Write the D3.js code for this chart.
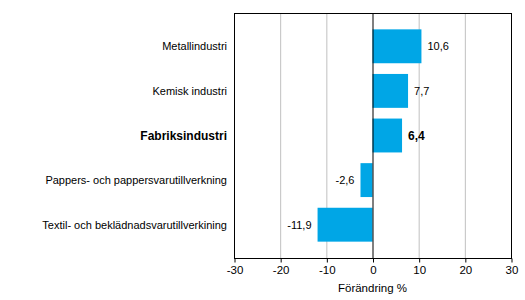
<!DOCTYPE html>
<html>
<head>
<meta charset="utf-8">
<script src="https://cdn.jsdelivr.net/npm/d3@7"></script>
<style>
  body { margin: 0; background: #fff; }
  text { font-family: "Liberation Sans", Arial, sans-serif; }
</style>
</head>
<body>
<svg id="chart" width="525" height="300"></svg>
<script>
// data
const categories = ["Metallindustri", "Kemisk industri", "Fabriksindustri",
  "Pappers- och pappersvarutillverkning", "Textil- och beklädnadsvarutillverkining"]
const values = [10.6, 7.7, 6.4, -2.6, -11.9]
const boldCat = "Fabriksindustri"
const ticks = [-30, -20, -10, 0, 10, 20, 30]

const plotL = 234, plotR = 511, plotT = 13, plotB = 258
const svg = d3.select("#chart")

const x = d3.scaleLinear().domain([-30, 30]).range([plotL, plotR])
const y = d3.scaleBand().domain(categories).range([24, 247]).paddingInner(0.24).paddingOuter(0.12)

// hyphen instead of unicode minus, decimal comma
const fmt = d => d3.format(".1f")(d).replace("−", "-").replace(".", ",")

// grid
svg.append("g").selectAll("line")
  .data(ticks.filter(t => t != 0 && t != -30 && t != 30))
  .join("line")
  .attr("x1", d => x(d) + 0.5).attr("x2", d => x(d) + 0.5)
  .attr("y1", plotT).attr("y2", plotB)
  .attr("stroke", "#c0c0c0").attr("stroke-width", 1)

// bars
svg.append("g").selectAll("rect")
  .data(categories)
  .join("rect")
  .attr("x", (d, i) => x(Math.min(0, values[i])))
  .attr("width", (d, i) => Math.abs(x(values[i]) - x(0)))
  .attr("y", d => y(d))
  .attr("height", y.bandwidth())
  .attr("fill", "#00a6e6")

// zero line
svg.append("line")
  .attr("x1", x(0) + 0.5).attr("x2", x(0) + 0.5)
  .attr("y1", plotT).attr("y2", plotB)
  .attr("stroke", "#000")

// frame
svg.append("rect")
  .attr("x", plotL + 0.5).attr("y", plotT + 0.5)
  .attr("width", plotR - plotL).attr("height", plotB - plotT)
  .attr("fill", "none").attr("stroke", "#000")

// x axis
const xAxis = d3.axisBottom(x).tickValues(ticks).tickSize(4).tickPadding(3)
  .tickFormat(d => String(d))
const gx = svg.append("g").attr("transform", `translate(0.5,${plotB + 0.5})`).call(xAxis)
gx.select(".domain").remove()
gx.selectAll("line").attr("stroke", "#000")
gx.selectAll("text").attr("font-size", 11.5).attr("fill", "#000")
  .attr("font-family", "'Liberation Sans', Arial, sans-serif")

svg.append("text")
  .attr("x", x(0)).attr("y", 292)
  .attr("text-anchor", "middle").attr("font-size", 11.5)
  .text("Förändring %")

// category labels
svg.append("g").selectAll("text")
  .data(categories)
  .join("text")
  .attr("x", 227)
  .attr("y", d => y(d) + y.bandwidth() / 2)
  .attr("dy", "0.35em")
  .attr("text-anchor", "end")
  .attr("font-size", d => d == boldCat ? 12 : 11)
  .attr("font-weight", d => d == boldCat ? "bold" : "normal")
  .text(d => d)

// value labels
svg.append("g").selectAll("text")
  .data(categories)
  .join("text")
  .attr("x", (d, i) => values[i] >= 0 ? x(values[i]) + 6 : x(values[i]) - 6)
  .attr("y", d => y(d) + y.bandwidth() / 2)
  .attr("dy", "0.35em")
  .attr("text-anchor", (d, i) => values[i] >= 0 ? "start" : "end")
  .attr("font-size", d => d == boldCat ? 12 : 11)
  .attr("font-weight", d => d == boldCat ? "bold" : "normal")
  .text((d, i) => fmt(values[i]))
</script>
</body>
</html>
